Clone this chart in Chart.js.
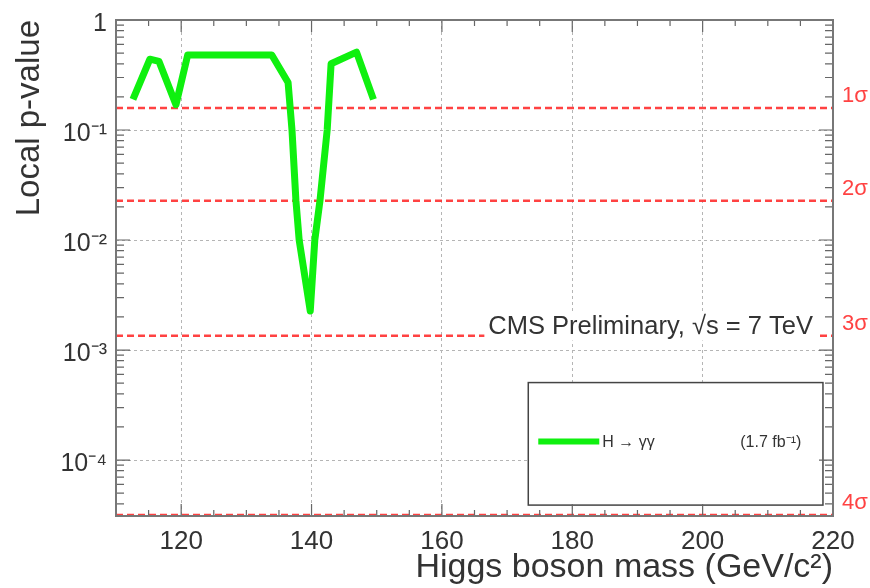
<!DOCTYPE html>
<html>
<head>
<meta charset="utf-8">
<script src="https://cdn.jsdelivr.net/npm/chart.js@4.4.1/dist/chart.umd.min.js"></script>
<style>
  html, body { margin: 0; padding: 0; background: #fff; }
  #wrap { width: 870px; height: 588px; }
</style>
</head>
<body>
<div id="wrap"><canvas id="pval"></canvas></div>
<script>
// H -> gamma gamma local p-value scan
const massGeV = [112.6, 115.2, 116.6, 119.2, 121.0, 133.9, 136.4, 137.0, 137.6, 138.1, 139.8, 140.5, 141.3, 142.4, 143.0, 146.9, 149.5];
const localP  = [0.19, 0.44, 0.42, 0.17, 0.48, 0.48, 0.27, 0.1, 0.023, 0.01, 0.00226, 0.01, 0.023, 0.1, 0.40, 0.51, 0.19];

const sigmaP      = [0.1587, 0.02275, 0.00135, 3.17e-5];
const sigmaLabels = ['1σ', '2σ', '3σ', '4σ'];

const xLabelTicks = [120, 140, 160, 180, 200, 220];
const xGridTicks  = [120, 140, 160, 180, 200];
const yDecades      = [1e-4, 1e-3, 1e-2, 1e-1, 1];
const yDecadeLabels = ['10⁻⁴', '10⁻³', '10⁻²', '10⁻¹', '1'];

const X_MIN = 110, X_MAX = 220;
const Y_MIN = 3.1e-5, Y_MAX = 1;

const FONT = "'Liberation Sans', Helvetica, Arial, sans-serif";
const TEXT = '#333';
const GREEN = '#0ff00f';
const RED = 'rgba(255, 45, 45, 0.9)';

Chart.defaults.font.family = FONT;
Chart.defaults.color = TEXT;

const isDecade = v => yDecades.some(d => Math.abs(v - d) / d < 1e-9);

function logTicks(scale) {
  const out = [];
  for (let e = -5; e <= 0; e++) {
    for (let m = 1; m <= 9; m++) {
      const v = +(m * Math.pow(10, e)).toPrecision(6);
      if (v >= scale.min && v <= scale.max) out.push({ value: v });
    }
  }
  scale.ticks = out;
}

// sigma reference lines, one dataset each
const sigmaSets = sigmaP.map((p, i) => ({
  label: sigmaLabels[i],
  data: [{ x: X_MIN, y: p }, { x: X_MAX, y: p }],
  borderColor: RED,
  borderWidth: 2.5,
  borderDash: [7, 4],
  pointRadius: 0,
  clip: 6,
}));

// legend box, CMS label
const overlay = {
  id: 'overlay',
  afterDatasetsDraw(chart) {
    const { ctx, chartArea: a } = chart;
    ctx.save();

    // CMS label with white backing
    ctx.font = `25.5px ${FONT}`;
    const cms = 'CMS Preliminary, √s = 7 TeV';
    const tw = ctx.measureText(cms).width;
    const cx = a.left + 0.972 * a.width;
    const cy = a.top + 0.618 * a.height;
    ctx.fillStyle = '#fff';
    ctx.fillRect(cx - tw - 4, cy - 14, tw + 8, 28);
    ctx.fillStyle = TEXT;
    ctx.textAlign = 'right';
    ctx.textBaseline = 'middle';
    ctx.fillText(cms, cx, cy);

    // legend
    const lx0 = a.left + 0.575 * a.width, lx1 = a.left + 0.986 * a.width;
    const ly0 = a.top + 0.731 * a.height, ly1 = a.top + 0.978 * a.height;
    ctx.fillStyle = '#fff';
    ctx.fillRect(lx0, ly0, lx1 - lx0, ly1 - ly0);
    ctx.strokeStyle = '#444';
    ctx.lineWidth = 1.5;
    ctx.strokeRect(lx0, ly0, lx1 - lx0, ly1 - ly0);

    const ly = a.top + 0.85 * a.height;
    ctx.strokeStyle = GREEN;
    ctx.lineWidth = 6;
    ctx.beginPath();
    ctx.moveTo(lx0 + 10, ly);
    ctx.lineTo(lx0 + 71, ly);
    ctx.stroke();

    ctx.fillStyle = TEXT;
    ctx.textAlign = 'left';
    ctx.font = `16px ${FONT}`;
    ctx.fillText(chart.data.datasets[0].label, lx0 + 74, ly + 1);
    ctx.fillText('(1.7 fb⁻¹)', lx0 + 212, ly + 1);
    ctx.restore();
  }
};

// ROOT style frame with inward ticks
const frame = {
  id: 'frame',
  afterDatasetsDraw(chart) {
    const { ctx, chartArea: a, scales: { x, y } } = chart;
    ctx.save();
    ctx.strokeStyle = '#666';
    ctx.lineWidth = 1.2;
    ctx.beginPath();
    x.ticks.forEach(t => {
      const px = x.getPixelForValue(t.value);
      const len = t.value % 20 === 0 ? 12 : 6;
      ctx.moveTo(px, a.bottom); ctx.lineTo(px, a.bottom - len);
      ctx.moveTo(px, a.top);    ctx.lineTo(px, a.top + len);
    });
    y.ticks.forEach(t => {
      const py = y.getPixelForValue(t.value);
      const len = isDecade(t.value) ? 14 : 8;
      ctx.moveTo(a.left, py);  ctx.lineTo(a.left + len, py);
      ctx.moveTo(a.right, py); ctx.lineTo(a.right - len, py);
    });
    ctx.stroke();
    ctx.lineWidth = 2;
    ctx.strokeStyle = '#777';
    ctx.strokeRect(a.left, a.top, a.width, a.height);
    ctx.restore();
  }
};

new Chart(document.getElementById('pval'), {
  type: 'line',
  data: {
    datasets: [
      {
        label: 'H → γγ',
        data: massGeV.map((m, i) => ({ x: m, y: localP[i] })),
        borderColor: GREEN,
        borderWidth: 7,
        borderJoinStyle: 'round',
        pointRadius: 0,
        tension: 0,
      },
      ...sigmaSets,
    ],
  },
  options: {
    responsive: true,
    maintainAspectRatio: false,
    animation: false,
    layout: { padding: { top: 20, right: 0, bottom: 0, left: 0 } },
    plugins: { legend: { display: false }, tooltip: { enabled: false } },
    scales: {
      x: {
        type: 'linear',
        min: X_MIN, max: X_MAX,
        afterFit: s => { s.height = 72; },
        ticks: {
          stepSize: 5,
          autoSkip: false,
          maxRotation: 0,
          padding: 10,
          color: TEXT,
          font: { size: 26 },
          callback: v => (xLabelTicks.includes(v) ? String(v) : ''),
        },
        grid: {
          drawTicks: false,
          color: c => (xGridTicks.includes(c.tick && c.tick.value) ? '#b5b5b5' : 'transparent'),
          lineWidth: 1,
        },
        border: { display: false, dash: [3, 3] },
        title: {
          display: true,
          text: 'Higgs boson mass (GeV/c²)',
          align: 'end',
          color: TEXT,
          font: { size: 34 },
          padding: { top: 0, bottom: 0 },
        },
      },
      y: {
        type: 'logarithmic',
        min: Y_MIN, max: Y_MAX,
        afterBuildTicks: logTicks,
        afterFit: s => { s.width = 116; },
        ticks: {
          autoSkip: false,
          padding: 9,
          labelOffset: 4,
          color: TEXT,
          font: { size: 25, lineHeight: 0.8 },
          callback: v => {
            const i = yDecades.findIndex(d => Math.abs(v - d) / d < 1e-9);
            return i >= 0 ? yDecadeLabels[i] : '';
          },
        },
        grid: {
          drawTicks: false,
          color: c => (c.tick && isDecade(c.tick.value) ? '#b5b5b5' : 'transparent'),
          lineWidth: 1,
        },
        border: { display: false, dash: [3, 3] },
        title: {
          display: true,
          text: 'Local p-value',
          align: 'end',
          color: TEXT,
          font: { size: 33 },
          padding: { top: 10, bottom: 0 },
        },
      },
      sigma: {
        type: 'logarithmic',
        position: 'right',
        min: Y_MIN, max: Y_MAX,
        afterBuildTicks: s => { s.ticks = sigmaP.map(p => ({ value: p })); },
        afterFit: s => { s.width = 37; },
        ticks: {
          autoSkip: false,
          padding: 9,
          labelOffset: -12,
          color: RED,
          font: { size: 22, lineHeight: 0.8 },
          callback: (v, i) => sigmaLabels[i],
        },
        grid: { display: false, drawTicks: false },
        border: { display: false },
      },
    },
  },
  plugins: [overlay, frame],
});
</script>
</body>
</html>
